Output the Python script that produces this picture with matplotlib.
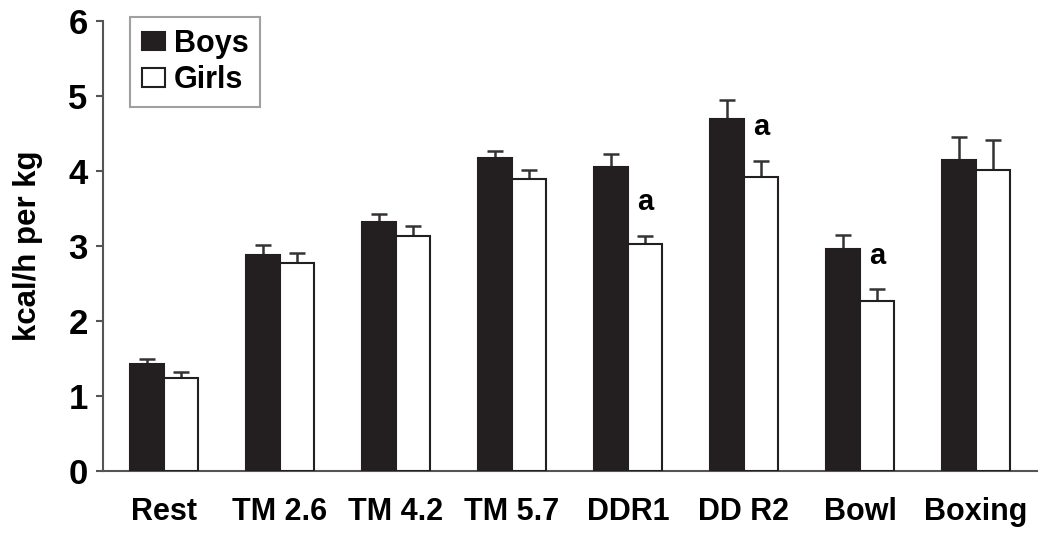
import numpy as np
import matplotlib
matplotlib.use("Agg")
import matplotlib.pyplot as plt

# values
categories = ["Rest", "TM 2.6", "TM 4.2", "TM 5.7", "DDR1", "DD R2", "Bowl", "Boxing"]
boys = [1.43, 2.88, 3.32, 4.17, 4.05, 4.69, 2.96, 4.14]
boys_err = [0.06, 0.13, 0.10, 0.10, 0.18, 0.25, 0.19, 0.31]
girls = [1.24, 2.77, 3.13, 3.89, 3.02, 3.92, 2.27, 4.01]
girls_err = [0.08, 0.14, 0.13, 0.12, 0.11, 0.21, 0.15, 0.40]
sig_marks = ["", "", "", "", "a", "a", "a", ""]

plt.rcParams["font.family"] = ["Liberation Sans", "DejaVu Sans"]
plt.rcParams["font.weight"] = "bold"

fig = plt.figure(figsize=(10.5, 5.35), dpi=100)
ax = fig.add_axes([0.0981, 0.1196, 0.8895, 0.8417])

x = np.arange(len(categories))
w = 0.295
edge = "#231f20"

ax.bar(x - w / 2, boys, w, color="#231f20", edgecolor=edge, linewidth=1.5,
       label="Boys", zorder=3)
ax.bar(x + w / 2, girls, w, color="white", edgecolor=edge, linewidth=1.5,
       label="Girls", zorder=3)

for xs, vals, errs in [(x - w / 2, boys, boys_err), (x + w / 2, girls, girls_err)]:
    _, caps, _ = ax.errorbar(xs, vals, yerr=[np.zeros(len(vals)), errs], fmt="none",
                             ecolor="#333333", elinewidth=1.8, capsize=5.8,
                             capthick=1.8, zorder=2)
    caps[0].set_visible(False)

for xi, g, ge, m in zip(x, girls, girls_err, sig_marks):
    if m:
        ax.text(xi + w / 2, g + ge + 0.45, m, ha="center", va="center",
                fontsize=21, fontweight="bold")

ax.set_xlim(-0.526, 7.526)
ax.set_ylim(0, 6)
ax.set_yticks(range(7))
ax.set_xticks(x)
ax.set_xticklabels(categories, fontsize=22, fontweight="bold")
ax.tick_params(axis="x", length=0, pad=19)
ax.tick_params(axis="y", length=5, width=1.5, color="#555555", pad=6, labelsize=25)
for lab in ax.get_yticklabels():
    lab.set_fontweight("bold")

for s in ["top", "right"]:
    ax.spines[s].set_visible(False)
for s in ["left", "bottom"]:
    ax.spines[s].set_color("#555555")
    ax.spines[s].set_linewidth(1.5)

ax.set_ylabel("kcal/h per kg", fontsize=22.5, fontweight="bold", labelpad=18)

leg = ax.legend(loc="upper left", bbox_to_anchor=(0.029, 1.008), borderaxespad=0,
                fontsize=22, frameon=True, fancybox=False, handlelength=0.75,
                handleheight=0.55, handletextpad=0.3, labelspacing=0.22,
                borderpad=0.38)
leg.get_frame().set_edgecolor("#888888")
leg.get_frame().set_linewidth(1.5)
for t in leg.get_texts():
    t.set_fontweight("bold")

fig.savefig("out.png", dpi=100)
plt.close(fig)
